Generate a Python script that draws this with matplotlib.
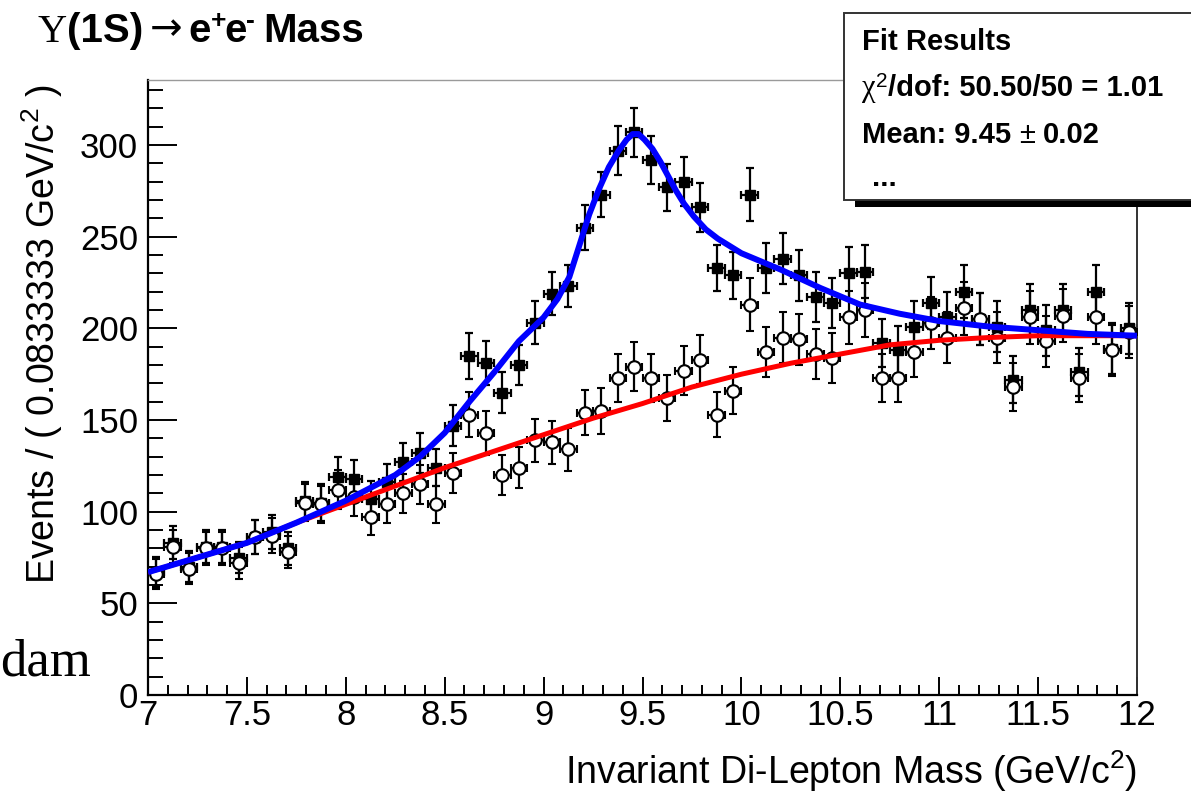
import numpy as np
import matplotlib.pyplot as plt
from matplotlib.patches import Rectangle
from matplotlib.ticker import MultipleLocator

plt.rcParams['font.family'] = ['Liberation Sans', 'DejaVu Sans']
plt.rcParams['mathtext.fontset'] = 'custom'
plt.rcParams['mathtext.rm'] = 'Liberation Sans'
plt.rcParams['mathtext.it'] = 'Liberation Sans:italic'
plt.rcParams['mathtext.bf'] = 'Liberation Sans:bold'

W, H = 1191, 800

# 60 bins between 7 and 12 GeV
bin_edges = np.linspace(7, 12, 61)
bin_centers = 0.5 * (bin_edges[:-1] + bin_edges[1:])

# filled squares: data
data_counts = [67, 83, 70, 81, 81, 75, 86, 89, 80, 106,
               105, 119, 118, 107, 116, 127, 132, 124, 147, 185,
               181, 165, 180, 203, 219, 223, 255, 273, 297, 307,
               292, 277, 280, 266, 233, 229, 273, 233, 238, 229,
               217, 214, 230, 231, 192, 188, 201, 214, 206, 220,
               205, 201, 172, 210, 199, 210, 176, 220, 189, 200]

# open circles: background sample
bkg_counts = [66, 81, 69, 80, 80, 72, 86, 87, 78, 105,
              104, 112, 108, 97, 104, 110, 115, 104, 121, 153,
              143, 120, 124, 139, 138, 134, 154, 155, 173, 179,
              173, 162, 177, 183, 153, 166, 213, 187, 195, 194,
              186, 184, 206, 210, 173, 173, 187, 203, 195, 211,
              205, 195, 168, 206, 193, 207, 173, 206, 188, 198]

# fit curves
total_x = [7.0, 7.25, 7.5, 7.75, 8.0, 8.25, 8.375, 8.5, 8.625, 8.75, 8.875, 9.0,
           9.07, 9.13, 9.18, 9.23, 9.28, 9.33, 9.38, 9.42, 9.45, 9.48, 9.51, 9.55,
           9.59, 9.63, 9.67, 9.71, 9.76, 9.82, 9.88, 9.94, 10.0,
           10.2, 10.4, 10.6, 10.8, 11.0, 11.25, 11.5, 11.75, 12.0]
total_y = [67, 75, 83, 94, 106, 120, 130, 143, 160, 176, 193, 206,
           216, 228, 245, 262, 276, 288, 297, 303, 306, 306, 303, 298,
           291, 283, 275, 268, 261, 254, 249, 245, 241,
           232, 222, 213, 208, 204, 201, 199, 197, 196]

bkg_x = [7.0, 7.25, 7.5, 7.75, 8.0, 8.25, 8.5, 8.75, 9.0, 9.25, 9.5, 9.75,
         10.0, 10.25, 10.5, 10.75, 11.0, 11.25, 11.5, 11.75, 12.0]
bkg_y = [67, 75, 83, 94, 104, 114, 124, 133, 142, 151, 159, 168,
         175, 181, 186, 191, 193.5, 195, 196, 196, 196]

half_bin = 0.5 * (bin_edges[1] - bin_edges[0])
yerr = np.sqrt(bkg_counts)

fig = plt.figure(figsize=(W / 100, H / 100), dpi=100)
ax = fig.add_axes([148 / W, 105 / H, 989 / W, 615 / H])

ax.errorbar(bin_centers, data_counts, xerr=half_bin, yerr=yerr, fmt='s',
            color='black', ms=7.5, elinewidth=1.6, capsize=3, capthick=1.6, zorder=2)
ax.errorbar(bin_centers, bkg_counts, xerr=half_bin, yerr=yerr, fmt='o',
            color='black', mfc='white', mec='black', mew=1.5, ms=9,
            elinewidth=1.6, capsize=3, capthick=1.6, zorder=3)
ax.plot(bkg_x, bkg_y, color='#ff0000', lw=3.6, zorder=4, solid_capstyle='butt')
ax.plot(total_x, total_y, color='#0000ff', lw=4.3, zorder=5, solid_capstyle='butt',
        solid_joinstyle='round')

ax.set_xlim(7, 12)
ax.set_ylim(0, 335.5)
ax.xaxis.set_minor_locator(MultipleLocator(0.1))
ax.yaxis.set_major_locator(MultipleLocator(50))
ax.yaxis.set_minor_locator(MultipleLocator(10))
ax.set_xticks(np.arange(7, 12.01, 0.5))
ax.set_xticklabels(['7', '7.5', '8', '8.5', '9', '9.5', '10', '10.5', '11', '11.5', '12'])

ax.tick_params(axis='both', which='both', direction='in', colors='black',
               top=False, right=False, labelsize=25, width=1.4)
ax.tick_params(axis='y', which='major', length=21, pad=7)
ax.tick_params(axis='y', which='minor', length=11)
ax.tick_params(axis='x', which='major', length=13, pad=3)
ax.tick_params(axis='x', which='minor', length=7)

ax.spines['left'].set_linewidth(1.6)
ax.spines['bottom'].set_linewidth(1.6)
ax.spines['top'].set_color('#9a9a9a')
ax.spines['top'].set_linewidth(1.0)
ax.spines['right'].set_color('#333333')
ax.spines['right'].set_linewidth(1.4)

# axis titles
fig.text(1137 / W, 1 - 771 / H, r'Invariant Di-Lepton Mass (GeV/c$^{2}$)',
         ha='right', va='center', fontsize=27)
fig.text(42 / W, 1 - 85 / H, r'Events / ( 0.0833333 GeV/c$^{2}$ )',
         ha='center', va='top', rotation=90, fontsize=27)

# leftover text fragment from the slide
fig.text(0, 1 - 675 / H, 'dam', family='Liberation Serif', fontsize=38,
         ha='left', va='baseline')

fig.canvas.draw()
renderer = fig.canvas.get_renderer()


def rich_text(x0, base, pieces):
    # pieces: (string, text kwargs, rise in pixels, gap after in pixels)
    x = x0
    for s, kw, rise, gap in pieces:
        t = fig.text(x / W, 1 - (base - rise) / H, s, ha='left', va='baseline', **kw)
        x += t.get_window_extent(renderer).width + gap


bold = dict(fontsize=29, fontweight='bold')
sup = dict(fontsize=19, fontweight='bold')
rich_text(38, 42, [
    ('\u03a5', dict(fontsize=29, family='Liberation Serif'), 0, 0),
    ('(1S)', bold, 0, 6),
    ('\u2192', dict(fontsize=28, family='DejaVu Sans'), 2, 6),
    ('e', bold, 0, 0),
    ('+', sup, 14, -2),
    ('e', bold, 0, 0),
    ('-', sup, 14, 8),
    ('Mass', bold, 0, 0),
])

# fit result box with shadow
fig.patches.append(Rectangle((855, H - 207), 400, 183, transform=None,
                             facecolor='black', edgecolor='none', zorder=5))
fig.patches.append(Rectangle((844, H - 200), 400, 187, transform=None,
                             facecolor='white', edgecolor='#333333', lw=1.4, zorder=6))

box = dict(fontsize=21, fontweight='bold', zorder=7)
fig.text(862 / W, 1 - 50 / H, 'Fit Results', ha='left', va='baseline', **box)
rich_text(862, 96, [
    ('\u03c7', dict(fontsize=22, family='Liberation Serif', zorder=7), 0, 0),
    ('2', dict(fontsize=15, zorder=7), 9, 1),
    ('/dof: 50.50/50 = 1.01', box, 0, 0),
])
rich_text(862, 143, [
    ('Mean: 9.45', box, 0, 8),
    ('\u00b1', dict(fontsize=21, zorder=7), 0, 8),
    ('0.02', box, 0, 0),
])
fig.text(872 / W, 1 - 186 / H, '...', ha='left', va='baseline', **box)

fig.savefig('out.png', dpi=100)
